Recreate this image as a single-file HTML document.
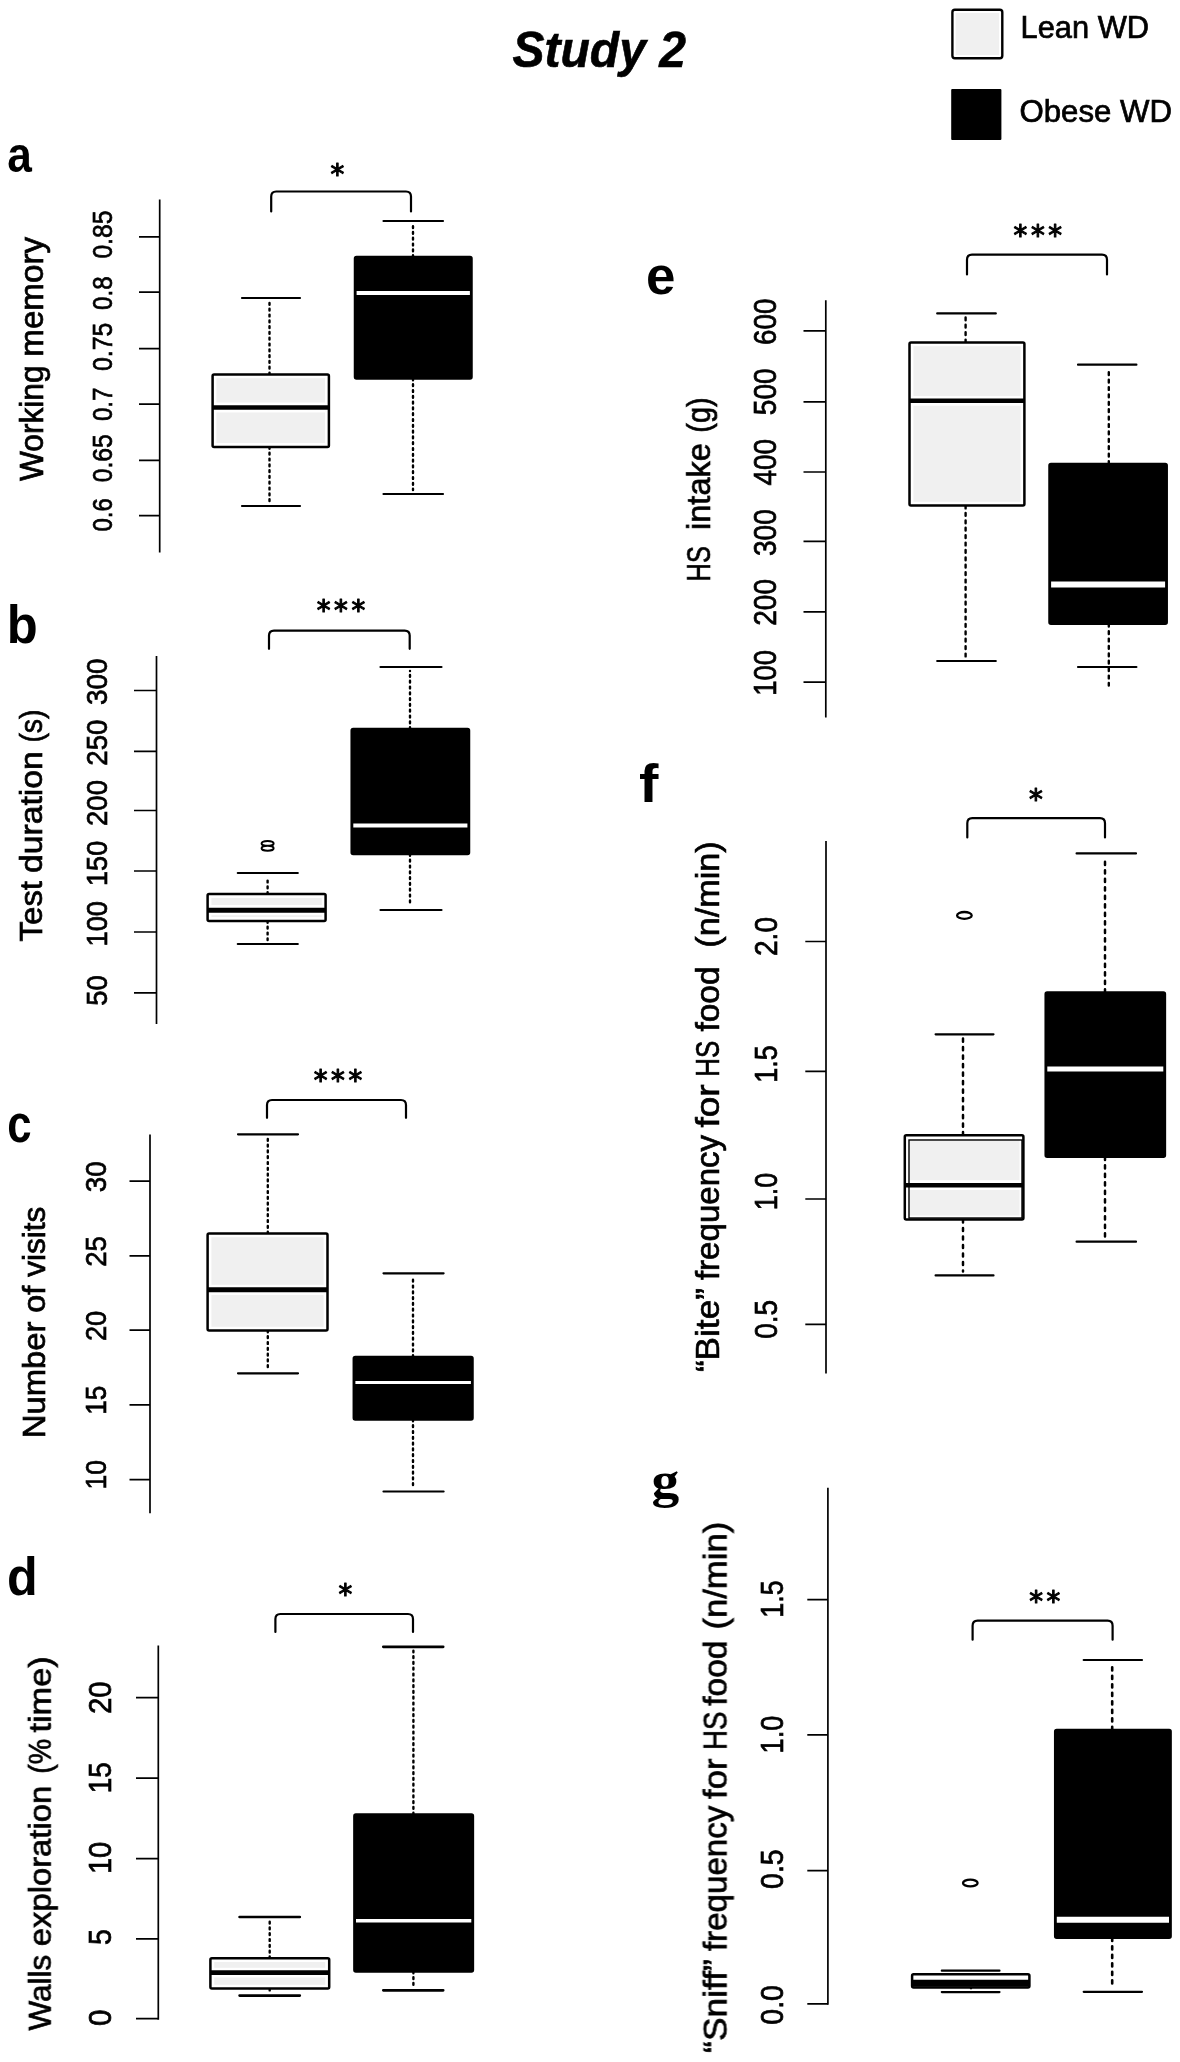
<!DOCTYPE html>
<html lang="en"><head><meta charset="utf-8"><title>Study 2</title>
<style>
html,body{margin:0;padding:0;background:#fff}
svg{display:block;font-family:"Liberation Sans", sans-serif;fill:#000}
</style></head><body>
<svg width="1180" height="2062" viewBox="0 0 1180 2062">
<defs><filter id="soft" x="0" y="0" width="100%" height="100%" filterUnits="userSpaceOnUse" color-interpolation-filters="sRGB"><feGaussianBlur stdDeviation="0.45"/></filter></defs>
<rect width="1180" height="2062" fill="#fff"/>
<g filter="url(#soft)">
<text x="512.5" y="66.6" text-anchor="start" font-size="49.5" font-weight="bold" font-style="italic" stroke="#000" stroke-width="0.6" textLength="173.5" lengthAdjust="spacingAndGlyphs">Study 2</text>
<rect x="952.4" y="9.7" width="49.9" height="48.5" rx="2.5" fill="#fff" stroke="#000" stroke-width="2.4"/><rect x="955.6" y="13" width="43.5" height="42" fill="#f0f0f0"/>
<rect x="951.2" y="89.1" width="50.2" height="50.8" rx="1" fill="#000"/>
<text x="1020.5" y="38" text-anchor="start" font-size="31" font-weight="normal" font-style="normal" stroke="#000" stroke-width="0.7" textLength="128.5" lengthAdjust="spacingAndGlyphs">Lean WD</text>
<text x="1019.5" y="122" text-anchor="start" font-size="31" font-weight="normal" font-style="normal" stroke="#000" stroke-width="0.7" textLength="152.5" lengthAdjust="spacingAndGlyphs">Obese WD</text>
<text transform="translate(7.17,171.59) scale(1.107,1.268)" font-size="40.0" font-weight="bold" font-family="'Liberation Sans', sans-serif">a</text>
<path d="M159.7 199.4V552.4" stroke="#000" stroke-width="1.7" fill="none"/>
<path d="M139 236.8H159.7M139 292.2H159.7M139 348.7H159.7M139 404.2H159.7M139 460.3H159.7M139 515.6H159.7" stroke="#000" stroke-width="1.7" fill="none"/>
<text transform="translate(112,234.6) rotate(-90)" text-anchor="middle" font-size="27" font-weight="normal" stroke="#000" stroke-width="0.7" textLength="48" lengthAdjust="spacingAndGlyphs">0.85</text>
<text transform="translate(112,293.2) rotate(-90)" text-anchor="middle" font-size="27" font-weight="normal" stroke="#000" stroke-width="0.7" textLength="33.6" lengthAdjust="spacingAndGlyphs">0.8</text>
<text transform="translate(112,346.8) rotate(-90)" text-anchor="middle" font-size="27" font-weight="normal" stroke="#000" stroke-width="0.7" textLength="48.4" lengthAdjust="spacingAndGlyphs">0.75</text>
<text transform="translate(112,404.3) rotate(-90)" text-anchor="middle" font-size="27" font-weight="normal" stroke="#000" stroke-width="0.7" textLength="33.5" lengthAdjust="spacingAndGlyphs">0.7</text>
<text transform="translate(112,458.2) rotate(-90)" text-anchor="middle" font-size="27" font-weight="normal" stroke="#000" stroke-width="0.7" textLength="48.1" lengthAdjust="spacingAndGlyphs">0.65</text>
<text transform="translate(112,514.8) rotate(-90)" text-anchor="middle" font-size="27" font-weight="normal" stroke="#000" stroke-width="0.7" textLength="33.4" lengthAdjust="spacingAndGlyphs">0.6</text>
<text transform="translate(42.8,0) rotate(-90)" font-size="32.5" stroke="#000" stroke-width="0.7"><tspan x="-481.1" textLength="115.7" lengthAdjust="spacingAndGlyphs">Working</tspan> <tspan x="-356.8" textLength="120.0" lengthAdjust="spacingAndGlyphs">memory</tspan></text>
<path d="M269.5 374.4V302M269.5 447V502" stroke="#000" stroke-width="2.4" stroke-dasharray="1.8 4" stroke-linecap="round" fill="none"/>
<path d="M242 298H300M242 506H300" stroke="#000" stroke-width="2.2" stroke-linecap="round" fill="none"/>
<rect x="212.6" y="374.4" width="116.3" height="72.6" rx="1.5" fill="#fff" stroke="#000" stroke-width="2.5"/>
<path d="M216.4 378.2H325.0V402.6H216.4ZM216.4 412.4H325.0V443.1H216.4Z" fill="#f0f0f0"/>
<path d="M212.6 407.5H328.9" stroke="#000" stroke-width="4.6" fill="none"/>
<path d="M413 257V225M413 378.5V490" stroke="#000" stroke-width="2.4" stroke-dasharray="1.8 4" stroke-linecap="round" fill="none"/>
<path d="M383.5 221H443M383.5 494H443" stroke="#000" stroke-width="2.2" stroke-linecap="round" fill="none"/>
<rect x="355" y="257" width="116.5" height="121.5" rx="1.5" fill="#000" stroke="#000" stroke-width="2.5"/>
<path d="M356.6 293H469.9" stroke="#fff" stroke-width="4" fill="none"/>
<path d="M271.2 211.5V196.5Q271.2 191.5 276.2 191.5H406Q411 191.5 411 196.5V211.5" stroke="#000" stroke-width="2.2" fill="none" stroke-linecap="round"/>
<text x="330.4" y="183.8" letter-spacing="3.55" font-family="'DejaVu Sans', 'Liberation Sans', sans-serif" font-size="27.5" stroke="#000" stroke-width="1.1" stroke-linejoin="round">*</text>
<text transform="translate(6.70,642.57) scale(1.267,1.323)" font-size="40.0" font-weight="bold" font-family="'Liberation Sans', sans-serif">b</text>
<path d="M156.5 656V1024" stroke="#000" stroke-width="1.7" fill="none"/>
<path d="M134 690.5H156.5M134 751.3H156.5M134 810.5H156.5M134 871H156.5M134 932H156.5M134 992.8H156.5" stroke="#000" stroke-width="1.7" fill="none"/>
<text transform="translate(106.5,681.7) rotate(-90)" text-anchor="middle" font-size="29.5" font-weight="normal" stroke="#000" stroke-width="0.7" textLength="46.6" lengthAdjust="spacingAndGlyphs">300</text>
<text transform="translate(106.5,742.6) rotate(-90)" text-anchor="middle" font-size="29.5" font-weight="normal" stroke="#000" stroke-width="0.7" textLength="46.2" lengthAdjust="spacingAndGlyphs">250</text>
<text transform="translate(106.5,803) rotate(-90)" text-anchor="middle" font-size="29.5" font-weight="normal" stroke="#000" stroke-width="0.7" textLength="45.8" lengthAdjust="spacingAndGlyphs">200</text>
<text transform="translate(106.5,863.4) rotate(-90)" text-anchor="middle" font-size="29.5" font-weight="normal" stroke="#000" stroke-width="0.7" textLength="45.2" lengthAdjust="spacingAndGlyphs">150</text>
<text transform="translate(106.5,923.7) rotate(-90)" text-anchor="middle" font-size="29.5" font-weight="normal" stroke="#000" stroke-width="0.7" textLength="45.5" lengthAdjust="spacingAndGlyphs">100</text>
<text transform="translate(106.5,990.4) rotate(-90)" text-anchor="middle" font-size="29.5" font-weight="normal" stroke="#000" stroke-width="0.7" textLength="30.5" lengthAdjust="spacingAndGlyphs">50</text>
<text transform="translate(42.4,0) rotate(-90)" font-size="31.5" stroke="#000" stroke-width="0.7"><tspan x="-941.4" textLength="60.4" lengthAdjust="spacingAndGlyphs">Test</tspan> <tspan x="-872.9" textLength="121.6" lengthAdjust="spacingAndGlyphs">duration</tspan> <tspan x="-742.6" textLength="33.1" lengthAdjust="spacingAndGlyphs">(s)</tspan></text>
<path d="M267.6 894V877M267.6 921V940" stroke="#000" stroke-width="2.4" stroke-dasharray="1.8 4" stroke-linecap="round" fill="none"/>
<path d="M237.8 873H297.8M237.8 944H297.8" stroke="#000" stroke-width="2.2" stroke-linecap="round" fill="none"/>
<rect x="207.6" y="894" width="118.0" height="27.0" rx="1.5" fill="#fff" stroke="#000" stroke-width="2.5"/>
<path d="M211.4 897.9H321.8V905.1H211.4ZM211.4 915.3H321.8V917.1H211.4Z" fill="#f0f0f0"/>
<path d="M207.6 910.2H325.6" stroke="#000" stroke-width="5" fill="none"/>
<ellipse cx="267.6" cy="843.4" rx="6" ry="2.5" fill="#fff" stroke="#000" stroke-width="2"/><ellipse cx="267.6" cy="848.2" rx="6" ry="2.5" fill="#fff" stroke="#000" stroke-width="2"/>
<path d="M410 729V671M410 854V906" stroke="#000" stroke-width="2.4" stroke-dasharray="1.8 4" stroke-linecap="round" fill="none"/>
<path d="M380.5 667H441.5M380.5 910H441.5" stroke="#000" stroke-width="2.2" stroke-linecap="round" fill="none"/>
<rect x="351.7" y="729" width="117.3" height="125.0" rx="1.5" fill="#000" stroke="#000" stroke-width="2.5"/>
<path d="M353.3 825.5H467.4" stroke="#fff" stroke-width="4" fill="none"/>
<path d="M269 648.8V635.6Q269 630.6 274 630.6H404.7Q409.7 630.6 409.7 635.6V648.8" stroke="#000" stroke-width="2.2" fill="none" stroke-linecap="round"/>
<text x="316.8" y="619.6" letter-spacing="3.55" font-family="'DejaVu Sans', 'Liberation Sans', sans-serif" font-size="27.5" stroke="#000" stroke-width="1.1" stroke-linejoin="round">***</text>
<text transform="translate(7.15,1141.78) scale(1.093,1.291)" font-size="40.0" font-weight="bold" font-family="'Liberation Sans', sans-serif">c</text>
<path d="M150 1134.5V1513.2" stroke="#000" stroke-width="1.7" fill="none"/>
<path d="M129.5 1181.2H150M129.5 1255.9H150M129.5 1330.2H150M129.5 1404.9H150M129.5 1479.6H150" stroke="#000" stroke-width="1.7" fill="none"/>
<text transform="translate(105.5,1176.7) rotate(-90)" text-anchor="middle" font-size="30" font-weight="normal" stroke="#000" stroke-width="0.7" textLength="30.9" lengthAdjust="spacingAndGlyphs">30</text>
<text transform="translate(105.5,1251.4) rotate(-90)" text-anchor="middle" font-size="30" font-weight="normal" stroke="#000" stroke-width="0.7" textLength="30.8" lengthAdjust="spacingAndGlyphs">25</text>
<text transform="translate(105.5,1325.9) rotate(-90)" text-anchor="middle" font-size="30" font-weight="normal" stroke="#000" stroke-width="0.7" textLength="30.4" lengthAdjust="spacingAndGlyphs">20</text>
<text transform="translate(105.5,1400.3) rotate(-90)" text-anchor="middle" font-size="30" font-weight="normal" stroke="#000" stroke-width="0.7" textLength="29.1" lengthAdjust="spacingAndGlyphs">15</text>
<text transform="translate(105.5,1474.7) rotate(-90)" text-anchor="middle" font-size="30" font-weight="normal" stroke="#000" stroke-width="0.7" textLength="29.6" lengthAdjust="spacingAndGlyphs">10</text>
<text transform="translate(45.1,0) rotate(-90)" font-size="32" stroke="#000" stroke-width="0.7"><tspan x="-1438.3" textLength="116.7" lengthAdjust="spacingAndGlyphs">Number</tspan> <tspan x="-1312.7" textLength="27.0" lengthAdjust="spacingAndGlyphs">of</tspan> <tspan x="-1276.8" textLength="70.2" lengthAdjust="spacingAndGlyphs">visits</tspan></text>
<path d="M267.8 1233.5V1138.3M267.8 1330.5V1369.3" stroke="#000" stroke-width="2.4" stroke-dasharray="1.8 4" stroke-linecap="round" fill="none"/>
<path d="M238 1134.3H298M238 1373.3H298" stroke="#000" stroke-width="2.2" stroke-linecap="round" fill="none"/>
<rect x="207.6" y="1233.5" width="119.9" height="97.0" rx="1.5" fill="#fff" stroke="#000" stroke-width="2.5"/>
<path d="M211.4 1237.3H323.6V1284.7H211.4ZM211.4 1294.9H323.6V1326.7H211.4Z" fill="#f0f0f0"/>
<path d="M207.6 1289.8H327.5" stroke="#000" stroke-width="5" fill="none"/>
<path d="M413 1357V1277.3M413 1419.5V1487.5" stroke="#000" stroke-width="2.4" stroke-dasharray="1.8 4" stroke-linecap="round" fill="none"/>
<path d="M383.5 1273.3H443.6M383.5 1491.5H443.6" stroke="#000" stroke-width="2.2" stroke-linecap="round" fill="none"/>
<rect x="353.8" y="1357" width="118.7" height="62.5" rx="1.5" fill="#000" stroke="#000" stroke-width="2.5"/>
<path d="M355.40000000000003 1382.6H470.9" stroke="#fff" stroke-width="3" fill="none"/>
<path d="M267 1117.8V1105Q267 1100 272 1100H401Q406 1100 406 1105V1117.8" stroke="#000" stroke-width="2.2" fill="none" stroke-linecap="round"/>
<text x="313.8" y="1090.1" letter-spacing="3.55" font-family="'DejaVu Sans', 'Liberation Sans', sans-serif" font-size="27.5" stroke="#000" stroke-width="1.1" stroke-linejoin="round">***</text>
<text transform="translate(6.89,1595.17) scale(1.257,1.327)" font-size="40.0" font-weight="bold" font-family="'Liberation Sans', sans-serif">d</text>
<path d="M158.3 1645.4V2019.7" stroke="#000" stroke-width="1.7" fill="none"/>
<path d="M136 1697.6H158.3M136 1778.1H158.3M136 1858.7H158.3M136 1938.8H158.3M136 2018.7H158.3" stroke="#000" stroke-width="1.7" fill="none"/>
<text transform="translate(110.8,1697.7) rotate(-90)" text-anchor="middle" font-size="31" font-weight="normal" stroke="#000" stroke-width="0.7" textLength="32.8" lengthAdjust="spacingAndGlyphs">20</text>
<text transform="translate(110.8,1777.7) rotate(-90)" text-anchor="middle" font-size="31" font-weight="normal" stroke="#000" stroke-width="0.7" textLength="31" lengthAdjust="spacingAndGlyphs">15</text>
<text transform="translate(110.8,1857.9) rotate(-90)" text-anchor="middle" font-size="31" font-weight="normal" stroke="#000" stroke-width="0.7" textLength="32.4" lengthAdjust="spacingAndGlyphs">10</text>
<text transform="translate(110.8,1937) rotate(-90)" text-anchor="middle" font-size="31" font-weight="normal" stroke="#000" stroke-width="0.7" textLength="16" lengthAdjust="spacingAndGlyphs">5</text>
<text transform="translate(110.8,2017.8) rotate(-90)" text-anchor="middle" font-size="31" font-weight="normal" stroke="#000" stroke-width="0.7" textLength="16.5" lengthAdjust="spacingAndGlyphs">0</text>
<text transform="translate(50.8,0) rotate(-90)" font-size="32" stroke="#000" stroke-width="0.7"><tspan x="-2030.6" textLength="75.8" lengthAdjust="spacingAndGlyphs">Walls</tspan> <tspan x="-1946.2" textLength="160.4" lengthAdjust="spacingAndGlyphs">exploration</tspan> <tspan x="-1773.8" textLength="35.0" lengthAdjust="spacingAndGlyphs">(%</tspan> <tspan x="-1732.6" textLength="76.3" lengthAdjust="spacingAndGlyphs">time)</tspan></text>
<path d="M269.7 1958.3V1921M269.7 1988.6V1991.6" stroke="#000" stroke-width="2.4" stroke-dasharray="1.8 4" stroke-linecap="round" fill="none"/>
<path d="M239.6 1917H299.8M239.6 1995.6H299.8" stroke="#000" stroke-width="2.7" stroke-linecap="round" fill="none"/>
<rect x="210.4" y="1958.3" width="118.8" height="30.3" rx="1.5" fill="#fff" stroke="#000" stroke-width="2.5"/>
<path d="M214.2 1962.1H325.3V1967.7H214.2ZM214.2 1977.5H325.3V1984.8H214.2Z" fill="#f0f0f0"/>
<path d="M210.4 1972.6H329.2" stroke="#000" stroke-width="4.6" fill="none"/>
<path d="M413.4 1814.6V1650.8M413.4 1971.4V1986.3" stroke="#000" stroke-width="2.4" stroke-dasharray="1.8 4" stroke-linecap="round" fill="none"/>
<path d="M383.3 1646.8H443.2M383.3 1990.3H443.2" stroke="#000" stroke-width="2.7" stroke-linecap="round" fill="none"/>
<rect x="354.4" y="1814.6" width="118.5" height="156.8" rx="1.5" fill="#000" stroke="#000" stroke-width="2.5"/>
<path d="M356.0 1920.8H471.29999999999995" stroke="#fff" stroke-width="3.4" fill="none"/>
<path d="M275.4 1632V1619Q275.4 1614 280.4 1614H408Q413 1614 413 1619V1632" stroke="#000" stroke-width="2.2" fill="none" stroke-linecap="round"/>
<text x="338.4" y="1604.3" letter-spacing="3.55" font-family="'DejaVu Sans', 'Liberation Sans', sans-serif" font-size="27.5" stroke="#000" stroke-width="1.1" stroke-linejoin="round">*</text>
<text transform="translate(645.88,293.68) scale(1.323,1.291)" font-size="40.0" font-weight="bold" font-family="'Liberation Sans', sans-serif">e</text>
<path d="M825.8 300.3V717.5" stroke="#000" stroke-width="1.7" fill="none"/>
<path d="M803.5 330.8H825.8M803.5 401.8H825.8M803.5 472H825.8M803.5 541.4H825.8M803.5 611.8H825.8M803.5 682.1H825.8" stroke="#000" stroke-width="1.7" fill="none"/>
<text transform="translate(775.6,321.7) rotate(-90)" text-anchor="middle" font-size="31" font-weight="normal" stroke="#000" stroke-width="0.7" textLength="46.4" lengthAdjust="spacingAndGlyphs">600</text>
<text transform="translate(775.6,391.8) rotate(-90)" text-anchor="middle" font-size="31" font-weight="normal" stroke="#000" stroke-width="0.7" textLength="46.9" lengthAdjust="spacingAndGlyphs">500</text>
<text transform="translate(775.6,462.2) rotate(-90)" text-anchor="middle" font-size="31" font-weight="normal" stroke="#000" stroke-width="0.7" textLength="46.8" lengthAdjust="spacingAndGlyphs">400</text>
<text transform="translate(775.6,532.6) rotate(-90)" text-anchor="middle" font-size="31" font-weight="normal" stroke="#000" stroke-width="0.7" textLength="46.8" lengthAdjust="spacingAndGlyphs">300</text>
<text transform="translate(775.6,602.4) rotate(-90)" text-anchor="middle" font-size="31" font-weight="normal" stroke="#000" stroke-width="0.7" textLength="46.7" lengthAdjust="spacingAndGlyphs">200</text>
<text transform="translate(775.6,672.8) rotate(-90)" text-anchor="middle" font-size="31" font-weight="normal" stroke="#000" stroke-width="0.7" textLength="45.8" lengthAdjust="spacingAndGlyphs">100</text>
<text transform="translate(710.1,0) rotate(-90)" font-size="32.7" stroke="#000" stroke-width="0.7"><tspan x="-581.4" textLength="35.2" lengthAdjust="spacingAndGlyphs">HS</tspan> <tspan x="-529.9" textLength="86.6" lengthAdjust="spacingAndGlyphs">intake</tspan> <tspan x="-432.7" textLength="35.3" lengthAdjust="spacingAndGlyphs">(g)</tspan></text>
<path d="M965.6 342.4V317.4M965.6 505.6V657" stroke="#000" stroke-width="2.4" stroke-dasharray="2.8 4.6" stroke-linecap="round" fill="none"/>
<path d="M937.2 313.4H995.8M937.2 661H995.8" stroke="#000" stroke-width="2.2" stroke-linecap="round" fill="none"/>
<rect x="909.5" y="342.4" width="114.9" height="163.2" rx="1.5" fill="#fff" stroke="#000" stroke-width="2.5"/>
<path d="M913.4 346.2H1020.6V395.9H913.4ZM913.4 405.7H1020.6V501.8H913.4Z" fill="#f0f0f0"/>
<path d="M909.5 400.8H1024.4" stroke="#000" stroke-width="4.6" fill="none"/>
<path d="M1108.8 463.9V368.7M1108.8 623.8V685.5" stroke="#000" stroke-width="2.4" stroke-dasharray="2.8 4.6" stroke-linecap="round" fill="none"/>
<path d="M1078 364.7H1136.4M1078 667H1136.4" stroke="#000" stroke-width="2.2" stroke-linecap="round" fill="none"/>
<rect x="1049.5" y="463.9" width="117.2" height="159.9" rx="1.5" fill="#000" stroke="#000" stroke-width="2.5"/>
<path d="M1051.1 584.4H1165.1000000000001" stroke="#fff" stroke-width="6" fill="none"/>
<path d="M967 274.4V259.7Q967 254.7 972 254.7H1102Q1107 254.7 1107 259.7V274.4" stroke="#000" stroke-width="2.2" fill="none" stroke-linecap="round"/>
<text x="1013.6" y="244.6" letter-spacing="3.55" font-family="'DejaVu Sans', 'Liberation Sans', sans-serif" font-size="27.5" stroke="#000" stroke-width="1.1" stroke-linejoin="round">***</text>
<text transform="translate(639.02,801.90) scale(1.461,1.345)" font-size="40.0" font-weight="bold" font-family="'Liberation Sans', sans-serif">f</text>
<path d="M826 841V1373.5" stroke="#000" stroke-width="1.7" fill="none"/>
<path d="M805.3 941.5H826M805.3 1071.3H826M805.3 1199H826M805.3 1324.3H826" stroke="#000" stroke-width="1.7" fill="none"/>
<text transform="translate(777,936.5) rotate(-90)" text-anchor="middle" font-size="30.5" font-weight="normal" stroke="#000" stroke-width="0.7" textLength="39" lengthAdjust="spacingAndGlyphs">2.0</text>
<text transform="translate(777,1064) rotate(-90)" text-anchor="middle" font-size="30.5" font-weight="normal" stroke="#000" stroke-width="0.7" textLength="37.4" lengthAdjust="spacingAndGlyphs">1.5</text>
<text transform="translate(777,1191.6) rotate(-90)" text-anchor="middle" font-size="30.5" font-weight="normal" stroke="#000" stroke-width="0.7" textLength="37.3" lengthAdjust="spacingAndGlyphs">1.0</text>
<text transform="translate(777,1319.3) rotate(-90)" text-anchor="middle" font-size="30.5" font-weight="normal" stroke="#000" stroke-width="0.7" textLength="38.9" lengthAdjust="spacingAndGlyphs">0.5</text>
<text transform="translate(719,0) rotate(-90)" font-size="32.5" stroke="#000" stroke-width="0.7"><tspan x="-1372.1" textLength="84.0" lengthAdjust="spacingAndGlyphs">“Bite”</tspan> <tspan x="-1280.1" textLength="145.2" lengthAdjust="spacingAndGlyphs">frequency</tspan> <tspan x="-1127.6" textLength="43.3" lengthAdjust="spacingAndGlyphs">for</tspan> <tspan x="-1076.7" textLength="36.0" lengthAdjust="spacingAndGlyphs">HS</tspan> <tspan x="-1031.6" textLength="65.1" lengthAdjust="spacingAndGlyphs">food</tspan> <tspan x="-947.7" textLength="106.4" lengthAdjust="spacingAndGlyphs">(n/min)</tspan></text>
<path d="M963 1135.3V1038.3M963 1219.4V1271.4" stroke="#000" stroke-width="2.5" stroke-dasharray="3.2 5.3" stroke-linecap="round" fill="none"/>
<path d="M935.6 1034.3H993.5M935.6 1275.4H993.5" stroke="#000" stroke-width="2.2" stroke-linecap="round" fill="none"/>
<rect x="904.8" y="1135.3" width="118.6" height="84.1" rx="1.5" fill="#fff" stroke="#000" stroke-width="2.5"/>
<path d="M908.6 1139.1H1019.5V1180.3H908.6ZM908.6 1190.1H1019.5V1215.6H908.6Z" fill="#f0f0f0"/>
<path d="M904.8 1185.2H1023.4" stroke="#000" stroke-width="4.6" fill="none"/>
<rect x="909" y="1140" width="113" height="78" fill="none" stroke="#000" stroke-width="1.4"/>
<ellipse cx="964.4" cy="915.4" rx="7.3" ry="3.4" fill="#fff" stroke="#000" stroke-width="2.3"/>
<path d="M1105 992.5V857.4M1105 1156.7V1237.7" stroke="#000" stroke-width="2.5" stroke-dasharray="3.2 5.3" stroke-linecap="round" fill="none"/>
<path d="M1076.6 853.4H1136M1076.6 1241.7H1136" stroke="#000" stroke-width="2.2" stroke-linecap="round" fill="none"/>
<rect x="1045.7" y="992.5" width="119.2" height="164.2" rx="1.5" fill="#000" stroke="#000" stroke-width="2.5"/>
<path d="M1047.3 1068.9H1163.3000000000002" stroke="#fff" stroke-width="5" fill="none"/>
<path d="M967.3 837.5V823.2Q967.3 818.2 972.3 818.2H1100Q1105 818.2 1105 823.2V837.5" stroke="#000" stroke-width="2.2" fill="none" stroke-linecap="round"/>
<text x="1029.1" y="808.6" letter-spacing="3.55" font-family="'DejaVu Sans', 'Liberation Sans', sans-serif" font-size="27.5" stroke="#000" stroke-width="1.1" stroke-linejoin="round">*</text>
<text transform="translate(651.51,1497.14) scale(1.387,1.291)" font-size="40.0" font-weight="bold" font-family="'Liberation Serif', serif">g</text>
<path d="M827.9 1487.7V2004.8" stroke="#000" stroke-width="1.7" fill="none"/>
<path d="M807.3 1599.6H827.9M807.3 1734.9H827.9M807.3 1870.6H827.9M807.3 2003.9H827.9" stroke="#000" stroke-width="1.7" fill="none"/>
<text transform="translate(782.6,1599) rotate(-90)" text-anchor="middle" font-size="30.5" font-weight="normal" stroke="#000" stroke-width="0.7" textLength="37.3" lengthAdjust="spacingAndGlyphs">1.5</text>
<text transform="translate(782.6,1734.6) rotate(-90)" text-anchor="middle" font-size="30.5" font-weight="normal" stroke="#000" stroke-width="0.7" textLength="37.8" lengthAdjust="spacingAndGlyphs">1.0</text>
<text transform="translate(782.6,1869.1) rotate(-90)" text-anchor="middle" font-size="30.5" font-weight="normal" stroke="#000" stroke-width="0.7" textLength="39.6" lengthAdjust="spacingAndGlyphs">0.5</text>
<text transform="translate(782.6,2004.9) rotate(-90)" text-anchor="middle" font-size="30.5" font-weight="normal" stroke="#000" stroke-width="0.7" textLength="39.6" lengthAdjust="spacingAndGlyphs">0.0</text>
<text transform="translate(726.6,0) rotate(-90)" font-size="32.5" stroke="#000" stroke-width="0.7"><tspan x="-2052.9" textLength="93.7" lengthAdjust="spacingAndGlyphs">“Sniff”</tspan> <tspan x="-1951.1" textLength="145.5" lengthAdjust="spacingAndGlyphs">frequency</tspan> <tspan x="-1798.9" textLength="40.3" lengthAdjust="spacingAndGlyphs">for</tspan> <tspan x="-1750.0" textLength="38.5" lengthAdjust="spacingAndGlyphs">HS</tspan> <tspan x="-1705.8" textLength="65.2" lengthAdjust="spacingAndGlyphs">food</tspan> <tspan x="-1629.6" textLength="107.8" lengthAdjust="spacingAndGlyphs">(n/min)</tspan></text>
<path d="M971 1974.2V1974.7M971 1987.4V1988.1" stroke="#000" stroke-width="2.6" stroke-dasharray="3.2 5.3" stroke-linecap="round" fill="none"/>
<path d="M941.8 1970.7H999.5M941.8 1992.1H999.5" stroke="#000" stroke-width="2.2" stroke-linecap="round" fill="none"/>
<rect x="912.1" y="1974.2" width="117.3" height="13.2" rx="1.5" fill="#fff" stroke="#000" stroke-width="2.5"/>
<path d="M912.1 1983.2H1029.4" stroke="#000" stroke-width="7" fill="none"/>
<ellipse cx="970.3" cy="1883" rx="7.3" ry="3.4" fill="#fff" stroke="#000" stroke-width="2.3"/>
<path d="M1112.2 1729.9V1664M1112.2 1937.7V1987.8" stroke="#000" stroke-width="2.6" stroke-dasharray="3.2 5.3" stroke-linecap="round" fill="none"/>
<path d="M1083.7 1660H1142M1083.7 1991.8H1142" stroke="#000" stroke-width="2.2" stroke-linecap="round" fill="none"/>
<rect x="1055.2" y="1729.9" width="115.4" height="207.8" rx="1.5" fill="#000" stroke="#000" stroke-width="2.5"/>
<path d="M1056.8 1919.7H1169.0" stroke="#fff" stroke-width="6" fill="none"/>
<path d="M972.6 1639.7V1625.7Q972.6 1620.7 977.6 1620.7H1107.6Q1112.6 1620.7 1112.6 1625.7V1639.7" stroke="#000" stroke-width="2.2" fill="none" stroke-linecap="round"/>
<text x="1029.3" y="1611.0" letter-spacing="3.55" font-family="'DejaVu Sans', 'Liberation Sans', sans-serif" font-size="27.5" stroke="#000" stroke-width="1.1" stroke-linejoin="round">**</text>
</g>
</svg>
</body></html>
